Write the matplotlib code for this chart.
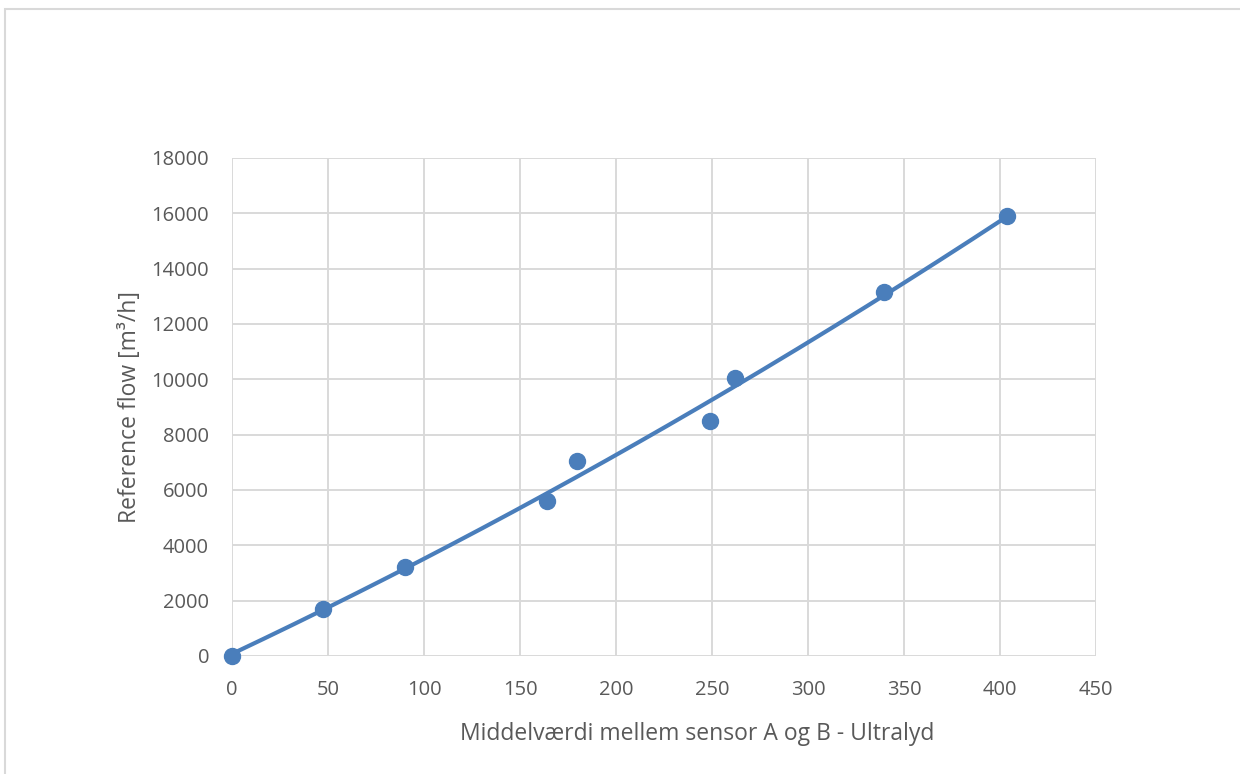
import matplotlib.pyplot as plt
import matplotlib.patches as mpatches
import numpy as np

plt.rcParams['font.family'] = ['Open Sans', 'DejaVu Sans']

ultralyd = [0, 47.6, 89.9, 163.9, 179.5, 249, 262, 339.7, 403.8]
ref_flow = [0, 1690, 3230, 5610, 7040, 8500, 10030, 13140, 15900]

blue = '#4A7EBB'
grid_col = '#D9D9D9'
text_col = '#595959'

fig = plt.figure(figsize=(12.4, 7.74), dpi=100)
ax = fig.add_axes([0.1871, 0.1525, 0.6968, 0.6434])

# polynomial trendline (order 2) like Excel
coef = np.polyfit(ultralyd, ref_flow, 2)
xs = np.linspace(0, max(ultralyd), 200)
ax.plot(xs, np.polyval(coef, xs), color=blue, linewidth=3, zorder=3, clip_on=False)
ax.plot(ultralyd, ref_flow, 'o', color=blue, markersize=11.5, zorder=4, clip_on=False)

ax.set_xlim(0, 450)
ax.set_ylim(0, 18000)
ax.set_xticks(np.arange(0, 451, 50))
ax.set_yticks(np.arange(0, 18001, 2000))
ax.grid(True, color=grid_col, linewidth=1.4)
ax.set_axisbelow(True)
for s in ax.spines.values():
    s.set_visible(False)
ax.tick_params(length=0, labelsize=14.5, colors=text_col)
ax.tick_params(axis='y', pad=16.5)
ax.tick_params(axis='x', pad=17.5)

ax.set_xlabel('Middelværdi mellem sensor A og B - Ultralyd', fontsize=16.5, color=text_col,
              labelpad=16, x=0.538)
ax.set_ylabel('Reference flow [m³/h]', fontsize=16.5, color=text_col, labelpad=7)

# chart border
fig.patches.append(mpatches.Rectangle((5 / 1240, -0.01), 1.02, 1 - 9 / 774 + 0.01,
                                      transform=fig.transFigure, fill=False,
                                      edgecolor='#D9D9D9', linewidth=1.5))

fig.savefig('out.png', dpi=100)
